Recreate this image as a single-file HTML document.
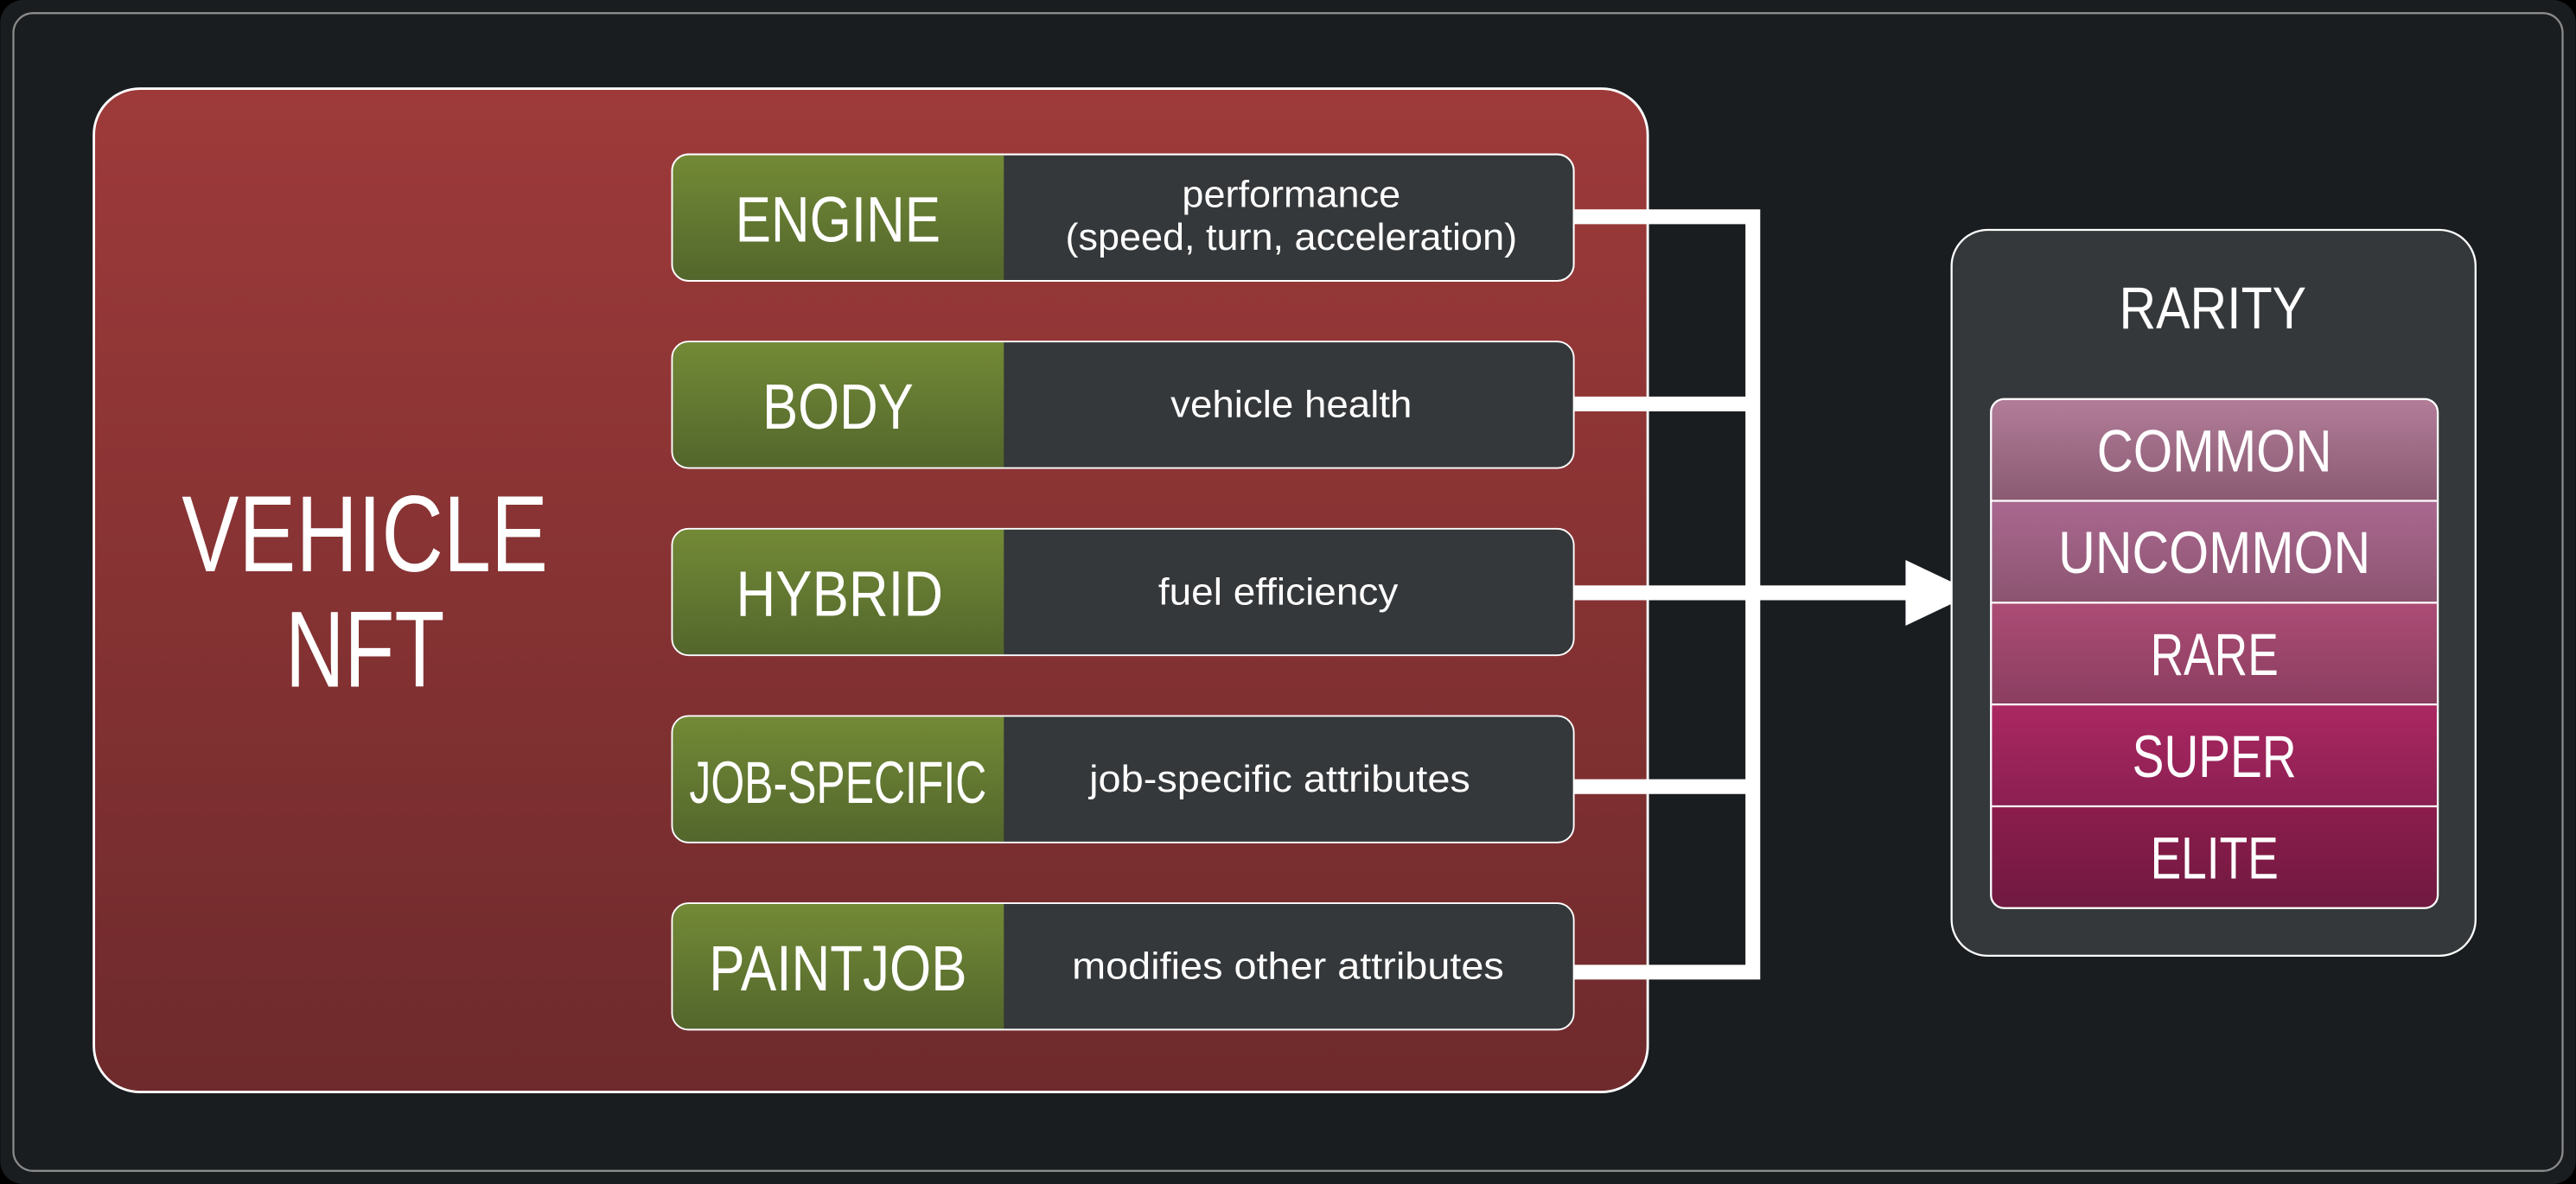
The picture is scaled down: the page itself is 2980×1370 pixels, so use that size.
<!DOCTYPE html>
<html><head><meta charset="utf-8"><style>html,body{margin:0;padding:0;background:#000}svg{display:block}text{font-family:"Liberation Sans",sans-serif;fill:#fff}</style></head>
<body>
<svg width="2980" height="1370" viewBox="0 0 1568 721" xmlns="http://www.w3.org/2000/svg">
<defs>
<linearGradient id="red" x1="0" y1="0" x2="0" y2="1"><stop offset="0" stop-color="#9e3a3a"/><stop offset="1" stop-color="#6e2a2c"/></linearGradient>
<linearGradient id="grn" x1="0" y1="0" x2="0" y2="1"><stop offset="0" stop-color="#738a36"/><stop offset="1" stop-color="#53662c"/></linearGradient>
<linearGradient id="t1" x1="0" y1="0" x2="0" y2="1"><stop offset="0" stop-color="#b27d99"/><stop offset="1" stop-color="#8a5a72"/></linearGradient>
<linearGradient id="t2" x1="0" y1="0" x2="0" y2="1"><stop offset="0" stop-color="#aa6890"/><stop offset="1" stop-color="#8c5470"/></linearGradient>
<linearGradient id="t3" x1="0" y1="0" x2="0" y2="1"><stop offset="0" stop-color="#ad4c76"/><stop offset="1" stop-color="#8a3e60"/></linearGradient>
<linearGradient id="t4" x1="0" y1="0" x2="0" y2="1"><stop offset="0" stop-color="#ac2862"/><stop offset="1" stop-color="#8a1f52"/></linearGradient>
<linearGradient id="t5" x1="0" y1="0" x2="0" y2="1"><stop offset="0" stop-color="#8c1c4c"/><stop offset="1" stop-color="#701a40"/></linearGradient>
<clipPath id="tc"><rect x="1212" y="243" width="272" height="310" rx="8"/></clipPath>
</defs>
<rect x="0" y="0" width="1568" height="721" rx="14" fill="#1a1d20"/>
<rect x="8" y="8" width="1552" height="705" rx="12" fill="none" stroke="#8a8a8a" stroke-width="1.2"/>
<rect x="57" y="54" width="946" height="611" rx="28" fill="url(#red)" stroke="#fff" stroke-width="1.5"/>
<text x="222" y="348" font-size="66" textLength="223" lengthAdjust="spacingAndGlyphs" text-anchor="middle">VEHICLE</text>
<text x="222" y="418" font-size="66" textLength="97" lengthAdjust="spacingAndGlyphs" text-anchor="middle">NFT</text>

<g stroke="#fff" stroke-width="9" fill="none">
<path d="M958 132 H1067 V592 H958"/>
<path d="M958 246 H1067 M958 479 H1067"/>
<path d="M958 361 H1162"/>
</g>
<polygon points="1160,341 1202,361 1160,381" fill="#fff"/>

<g>
<rect x="409" y="94" width="549" height="77" rx="10" fill="#35383a" stroke="#fff" stroke-width="1"/>
<path d="M419 94.5 H611 V170.5 H419 A9.5 9.5 0 0 1 409.5 161 V104 A9.5 9.5 0 0 1 419 94.5Z" fill="url(#grn)"/>
<rect x="409" y="94" width="549" height="77" rx="10" fill="none" stroke="#fff" stroke-width="1"/>
<text x="510" y="147" font-size="39" textLength="125" lengthAdjust="spacingAndGlyphs" text-anchor="middle">ENGINE</text>
<text x="786" y="126" font-size="23" textLength="133" lengthAdjust="spacingAndGlyphs" text-anchor="middle">performance</text>
<text x="786" y="152" font-size="23" textLength="275" lengthAdjust="spacingAndGlyphs" text-anchor="middle">(speed, turn, acceleration)</text>
</g>
<g>
<rect x="409" y="208" width="549" height="77" rx="10" fill="#35383a"/>
<path d="M419 208.5 H611 V284.5 H419 A9.5 9.5 0 0 1 409.5 275 V218 A9.5 9.5 0 0 1 419 208.5Z" fill="url(#grn)"/>
<rect x="409" y="208" width="549" height="77" rx="10" fill="none" stroke="#fff" stroke-width="1"/>
<text x="510" y="261" font-size="39" textLength="92" lengthAdjust="spacingAndGlyphs" text-anchor="middle">BODY</text>
<text x="786" y="254" font-size="23" textLength="147" lengthAdjust="spacingAndGlyphs" text-anchor="middle">vehicle health</text>
</g>
<g>
<rect x="409" y="322" width="549" height="77" rx="10" fill="#35383a"/>
<path d="M419 322.5 H611 V398.5 H419 A9.5 9.5 0 0 1 409.5 389 V332 A9.5 9.5 0 0 1 419 322.5Z" fill="url(#grn)"/>
<rect x="409" y="322" width="549" height="77" rx="10" fill="none" stroke="#fff" stroke-width="1"/>
<text x="511" y="375" font-size="39" textLength="126" lengthAdjust="spacingAndGlyphs" text-anchor="middle">HYBRID</text>
<text x="778" y="368" font-size="23" textLength="146" lengthAdjust="spacingAndGlyphs" text-anchor="middle">fuel efficiency</text>
</g>
<g>
<rect x="409" y="436" width="549" height="77" rx="10" fill="#35383a"/>
<path d="M419 436.5 H611 V512.5 H419 A9.5 9.5 0 0 1 409.5 503 V446 A9.5 9.5 0 0 1 419 436.5Z" fill="url(#grn)"/>
<rect x="409" y="436" width="549" height="77" rx="10" fill="none" stroke="#fff" stroke-width="1"/>
<text x="510" y="489" font-size="36" textLength="181" lengthAdjust="spacingAndGlyphs" text-anchor="middle">JOB-SPECIFIC</text>
<text x="779" y="482" font-size="23" textLength="232" lengthAdjust="spacingAndGlyphs" text-anchor="middle">job-specific attributes</text>
</g>
<g>
<rect x="409" y="550" width="549" height="77" rx="10" fill="#35383a"/>
<path d="M419 550.5 H611 V626.5 H419 A9.5 9.5 0 0 1 409.5 617 V560 A9.5 9.5 0 0 1 419 550.5Z" fill="url(#grn)"/>
<rect x="409" y="550" width="549" height="77" rx="10" fill="none" stroke="#fff" stroke-width="1"/>
<text x="510" y="603" font-size="39" textLength="157" lengthAdjust="spacingAndGlyphs" text-anchor="middle">PAINTJOB</text>
<text x="784" y="596" font-size="23" textLength="263" lengthAdjust="spacingAndGlyphs" text-anchor="middle">modifies other attributes</text>
</g>

<rect x="1188" y="140" width="319" height="442" rx="22" fill="#35383a" stroke="#fff" stroke-width="1.2"/>
<text x="1347" y="200" font-size="36" textLength="114" lengthAdjust="spacingAndGlyphs" text-anchor="middle">RARITY</text>
<g clip-path="url(#tc)">
<rect x="1212" y="243" width="272" height="62" fill="url(#t1)"/>
<rect x="1212" y="305" width="272" height="62" fill="url(#t2)"/>
<rect x="1212" y="367" width="272" height="62" fill="url(#t3)"/>
<rect x="1212" y="429" width="272" height="62" fill="url(#t4)"/>
<rect x="1212" y="491" width="272" height="62" fill="url(#t5)"/>
</g>
<g stroke="#fff" stroke-width="1.2"><path d="M1212 305 H1484 M1212 367 H1484 M1212 429 H1484 M1212 491 H1484"/></g>
<rect x="1212" y="243" width="272" height="310" rx="8" fill="none" stroke="#fff" stroke-width="1.2"/>
<text x="1348" y="287" font-size="36" textLength="143" lengthAdjust="spacingAndGlyphs" text-anchor="middle">COMMON</text>
<text x="1348" y="349" font-size="36" textLength="190" lengthAdjust="spacingAndGlyphs" text-anchor="middle">UNCOMMON</text>
<text x="1348" y="411" font-size="36" textLength="78" lengthAdjust="spacingAndGlyphs" text-anchor="middle">RARE</text>
<text x="1348" y="473" font-size="36" textLength="100" lengthAdjust="spacingAndGlyphs" text-anchor="middle">SUPER</text>
<text x="1348" y="535" font-size="36" textLength="78" lengthAdjust="spacingAndGlyphs" text-anchor="middle">ELITE</text>
</svg>
</body></html>
